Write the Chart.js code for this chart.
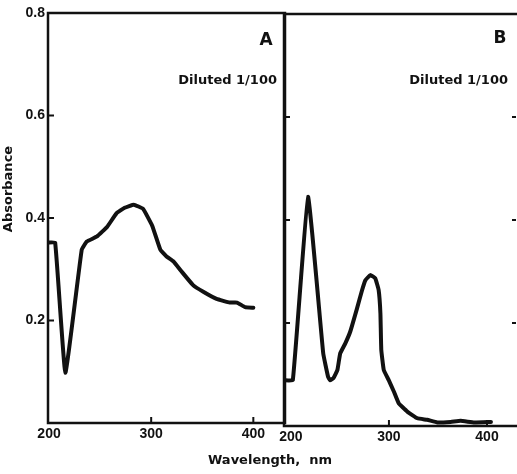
<!DOCTYPE html>
<html><head><meta charset="utf-8">
<script src="https://cdn.jsdelivr.net/npm/chart.js@4.4.0/dist/chart.umd.min.js"></script>
<style>
html,body{margin:0;padding:0;background:#fff;}
#wrap{position:relative;width:517px;height:474px;background:#fff;}
canvas{position:absolute;left:0;top:0;}
</style></head><body>
<div id="wrap"><canvas id="cA" width="517" height="474"></canvas><canvas id="cB" width="517" height="474"></canvas></div>
<script>
// ---- data ----
const wavelengthA = [199, 206, 216, 232, 237, 247, 257, 266, 274, 283, 292, 301, 309, 315, 322, 330, 341, 351, 364, 377, 384, 392, 400];
const absorbanceA = [0.352, 0.352, 0.098, 0.338, 0.354, 0.364, 0.383, 0.409, 0.42, 0.426, 0.418, 0.385, 0.338, 0.325, 0.315, 0.295, 0.269, 0.256, 0.242, 0.235, 0.235, 0.226, 0.225];
const wavelengthB = [193, 202, 217.5, 233, 238, 240, 243.4, 247.5, 250.3, 255.4, 260.5, 267.4, 272.5, 276, 281, 286, 289.5, 291.3, 292.2, 294.7, 299.8, 305, 310, 318.7, 329, 339, 349.4, 363, 373, 387, 404];
const absorbanceB = [0.089, 0.089, 0.445, 0.141, 0.095, 0.089, 0.093, 0.109, 0.141, 0.16, 0.183, 0.228, 0.263, 0.283, 0.293, 0.287, 0.264, 0.219, 0.148, 0.109, 0.089, 0.067, 0.044, 0.028, 0.015, 0.012, 0.007, 0.008, 0.01, 0.007, 0.008];
const yTickValues = [0, 0.2, 0.4, 0.6, 0.8];
const xTickValues = [200, 300, 400];
const panelNames = ['A', 'B'];
const noteText = 'Diluted 1/100';
const yTitle = 'Absorbance';
const xTitle = 'Wavelength,  nm';

const INK = '#111';
const tickFont = {family: '"Liberation Sans"', size: 14, weight: 'bold'};

const framePlugin = {
  id: 'frame',
  afterDraw(chart, args, o) {
    const {ctx, chartArea: a} = chart;
    const x = chart.scales.x, y = chart.scales.y;
    ctx.save();
    ctx.strokeStyle = INK; ctx.fillStyle = INK;
    ctx.lineCap = 'square';
    ctx.lineWidth = 2.5;
    ctx.beginPath();
    ctx.moveTo(a.left, a.top); ctx.lineTo(a.left, a.bottom);
    ctx.moveTo(a.left, a.bottom); ctx.lineTo(o.edgeRight, a.bottom);
    ctx.moveTo(a.left, a.top); ctx.lineTo(o.edgeRight, a.top);
    if (o.rightLine) { ctx.moveTo(a.right, a.top); ctx.lineTo(a.right, a.bottom); }
    ctx.stroke();
    ctx.lineWidth = 2;
    ctx.lineCap = 'butt';
    ctx.beginPath();
    yTickValues.forEach(v => {
      if (v <= 0 || v >= 0.8) return;
      const py = y.getPixelForValue(v);
      ctx.moveTo(a.left, py); ctx.lineTo(a.left + 6, py);
      if (o.rightTicks) { ctx.moveTo(a.right + 3, py); ctx.lineTo(a.right - 1, py); }
    });
    xTickValues.forEach(v => {
      if (v <= 200) return;
      const px = x.getPixelForValue(v);
      ctx.moveTo(px, a.bottom); ctx.lineTo(px, a.bottom - 6);
    });
    ctx.stroke();
    // texts
    ctx.textBaseline = 'middle';
    ctx.font = 'bold 17px "DejaVu Sans"';
    ctx.textAlign = 'center';
    ctx.fillText(o.name, o.namePos[0], o.namePos[1]);
    ctx.font = 'bold 13px "DejaVu Sans"';
    ctx.textAlign = 'right';
    ctx.fillText(noteText, o.notePos[0], o.notePos[1]);
    if (o.titles) {
      ctx.font = 'bold 13px "DejaVu Sans"';
      ctx.textAlign = 'center';
      ctx.fillText(xTitle, o.xTitlePos[0], o.xTitlePos[1]);
      ctx.save();
      ctx.translate(o.yTitlePos[0], o.yTitlePos[1]);
      ctx.rotate(-Math.PI / 2);
      ctx.fillText(yTitle, 0, 0);
      ctx.restore();
    }
    ctx.restore();
  }
};

function makeChart(id, xs, ys, cfg) {
  return new Chart(document.getElementById(id), {
    type: 'line',
    data: {
      datasets: [{
        data: xs.map((w, i) => ({x: w, y: ys[i]})),
        borderColor: INK,
        borderWidth: 4,
        pointRadius: 0,
        tension: 0.1,
        borderJoinStyle: 'round',
        borderCapStyle: 'round',
        fill: false
      }]
    },
    options: {
      responsive: false,
      animation: false,
      devicePixelRatio: 1,
      layout: {padding: cfg.padding},
      plugins: {legend: {display: false}, tooltip: {enabled: false}, frame: cfg.frame},
      scales: {
        x: {
          type: 'linear', min: cfg.xmin, max: cfg.xmax,
          grid: {display: false, drawTicks: false},
          border: {display: false},
          afterBuildTicks: s => { s.ticks = xTickValues.map(v => ({value: v})); },
          afterFit: s => { s.height = cfg.xHeight; },
          ticks: {font: tickFont, color: INK, padding: 3, maxRotation: 0, autoSkip: false,
                  callback: v => String(v)}
        },
        y: {
          display: cfg.showY,
          min: 0, max: 0.8,
          grid: {display: false, drawTicks: false},
          border: {display: false},
          afterBuildTicks: s => { s.ticks = yTickValues.map(v => ({value: v})); },
          afterFit: s => { s.width = cfg.yWidth; },
          ticks: {font: tickFont, color: INK, padding: 3,
                  callback: v => v === 0 ? '' : v.toFixed(1)}
        }
      }
    },
    plugins: [framePlugin]
  });
}

makeChart('cA', wavelengthA, absorbanceA, {
  padding: {top: 13, right: 232, left: 0, bottom: 0},
  xmin: 199, xmax: 431, xHeight: 51, yWidth: 48, showY: true,
  frame: {name: panelNames[0], namePos: [266, 41], notePos: [277, 81], edgeRight: 285, rightLine: true,
          titles: true, xTitlePos: [270, 461], yTitlePos: [9, 189]}
});
makeChart('cB', wavelengthB, absorbanceB, {
  padding: {top: 14, right: 4, left: 284, bottom: 0},
  xmin: 193, xmax: 426.5, xHeight: 48, yWidth: 0, showY: false,
  frame: {name: panelNames[1], namePos: [500, 39], notePos: [508, 81], edgeRight: 517, rightLine: false,
          rightTicks: true, titles: false}
});
</script>
</body></html>
